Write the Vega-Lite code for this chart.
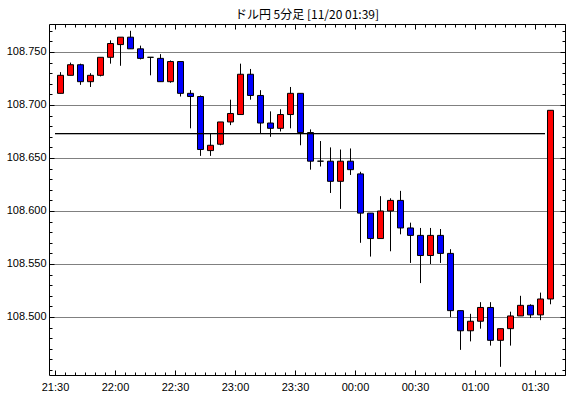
{
  "$schema": "https://vega.github.io/schema/vega-lite/v6.json",
  "width": 516,
  "height": 351,
  "autosize": "none",
  "padding": {"left": 49, "top": 24, "right": 5, "bottom": 23},
  "background": "white",
  "title": {"text": "ドル円 5分足 [11/20 01:39]", "font": "Noto Sans CJK JP", "fontSize": 12, "fontWeight": "normal", "color": "black", "anchor": "middle", "frame": "group", "baseline": "bottom", "offset": 4, "dy": 14},
  "config": {
    "view": {"stroke": "black", "strokeWidth": 1},
    "axis": {"domain": false, "labelFont": "Liberation Sans", "labelFontSize": 11, "labelColor": "black", "tickColor": "black", "tickWidth": 1, "tickOpacity": 1, "gridColor": "black", "title": null}
  },
  "datasets": {
    "candles": [
      {"t": "2019-11-19T21:30:00", "open": 108.711, "high": 108.731, "low": 108.711, "close": 108.728},
      {"t": "2019-11-19T21:35:00", "open": 108.728, "high": 108.740, "low": 108.728, "close": 108.738},
      {"t": "2019-11-19T21:40:00", "open": 108.738, "high": 108.739, "low": 108.719, "close": 108.722},
      {"t": "2019-11-19T21:45:00", "open": 108.722, "high": 108.730, "low": 108.717, "close": 108.728},
      {"t": "2019-11-19T21:50:00", "open": 108.728, "high": 108.745, "low": 108.727, "close": 108.745},
      {"t": "2019-11-19T21:55:00", "open": 108.745, "high": 108.761, "low": 108.739, "close": 108.758},
      {"t": "2019-11-19T22:00:00", "open": 108.757, "high": 108.764, "low": 108.737, "close": 108.764},
      {"t": "2019-11-19T22:05:00", "open": 108.764, "high": 108.770, "low": 108.753, "close": 108.753},
      {"t": "2019-11-19T22:10:00", "open": 108.753, "high": 108.756, "low": 108.743, "close": 108.744},
      {"t": "2019-11-19T22:15:00", "open": 108.745, "high": 108.745, "low": 108.728, "close": 108.745},
      {"t": "2019-11-19T22:20:00", "open": 108.744, "high": 108.748, "low": 108.722, "close": 108.722},
      {"t": "2019-11-19T22:25:00", "open": 108.722, "high": 108.742, "low": 108.721, "close": 108.741},
      {"t": "2019-11-19T22:30:00", "open": 108.741, "high": 108.741, "low": 108.708, "close": 108.711},
      {"t": "2019-11-19T22:35:00", "open": 108.711, "high": 108.714, "low": 108.678, "close": 108.708},
      {"t": "2019-11-19T22:40:00", "open": 108.708, "high": 108.709, "low": 108.652, "close": 108.658},
      {"t": "2019-11-19T22:45:00", "open": 108.657, "high": 108.673, "low": 108.652, "close": 108.662},
      {"t": "2019-11-19T22:50:00", "open": 108.663, "high": 108.684, "low": 108.662, "close": 108.684},
      {"t": "2019-11-19T22:55:00", "open": 108.684, "high": 108.705, "low": 108.681, "close": 108.692},
      {"t": "2019-11-19T23:00:00", "open": 108.691, "high": 108.739, "low": 108.691, "close": 108.729},
      {"t": "2019-11-19T23:05:00", "open": 108.729, "high": 108.734, "low": 108.705, "close": 108.709},
      {"t": "2019-11-19T23:10:00", "open": 108.709, "high": 108.714, "low": 108.673, "close": 108.683},
      {"t": "2019-11-19T23:15:00", "open": 108.683, "high": 108.694, "low": 108.670, "close": 108.678},
      {"t": "2019-11-19T23:20:00", "open": 108.678, "high": 108.696, "low": 108.675, "close": 108.691},
      {"t": "2019-11-19T23:25:00", "open": 108.691, "high": 108.717, "low": 108.678, "close": 108.711},
      {"t": "2019-11-19T23:30:00", "open": 108.711, "high": 108.711, "low": 108.662, "close": 108.674},
      {"t": "2019-11-19T23:35:00", "open": 108.674, "high": 108.677, "low": 108.639, "close": 108.647},
      {"t": "2019-11-19T23:40:00", "open": 108.647, "high": 108.666, "low": 108.642, "close": 108.647},
      {"t": "2019-11-19T23:45:00", "open": 108.647, "high": 108.660, "low": 108.617, "close": 108.628},
      {"t": "2019-11-19T23:50:00", "open": 108.628, "high": 108.658, "low": 108.602, "close": 108.647},
      {"t": "2019-11-19T23:55:00", "open": 108.647, "high": 108.659, "low": 108.634, "close": 108.639},
      {"t": "2019-11-20T00:00:00", "open": 108.635, "high": 108.637, "low": 108.570, "close": 108.598},
      {"t": "2019-11-20T00:05:00", "open": 108.598, "high": 108.598, "low": 108.557, "close": 108.574},
      {"t": "2019-11-20T00:10:00", "open": 108.574, "high": 108.614, "low": 108.574, "close": 108.600},
      {"t": "2019-11-20T00:15:00", "open": 108.600, "high": 108.612, "low": 108.562, "close": 108.610},
      {"t": "2019-11-20T00:20:00", "open": 108.610, "high": 108.619, "low": 108.578, "close": 108.584},
      {"t": "2019-11-20T00:25:00", "open": 108.584, "high": 108.589, "low": 108.551, "close": 108.577},
      {"t": "2019-11-20T00:30:00", "open": 108.577, "high": 108.584, "low": 108.532, "close": 108.558},
      {"t": "2019-11-20T00:35:00", "open": 108.558, "high": 108.584, "low": 108.550, "close": 108.577},
      {"t": "2019-11-20T00:40:00", "open": 108.577, "high": 108.583, "low": 108.551, "close": 108.560},
      {"t": "2019-11-20T00:45:00", "open": 108.560, "high": 108.564, "low": 108.500, "close": 108.506},
      {"t": "2019-11-20T00:50:00", "open": 108.506, "high": 108.506, "low": 108.469, "close": 108.487},
      {"t": "2019-11-20T00:55:00", "open": 108.487, "high": 108.503, "low": 108.477, "close": 108.496},
      {"t": "2019-11-20T01:00:00", "open": 108.496, "high": 108.514, "low": 108.489, "close": 108.509},
      {"t": "2019-11-20T01:05:00", "open": 108.509, "high": 108.514, "low": 108.473, "close": 108.478},
      {"t": "2019-11-20T01:10:00", "open": 108.478, "high": 108.489, "low": 108.453, "close": 108.489},
      {"t": "2019-11-20T01:15:00", "open": 108.489, "high": 108.505, "low": 108.473, "close": 108.501},
      {"t": "2019-11-20T01:20:00", "open": 108.501, "high": 108.520, "low": 108.501, "close": 108.511},
      {"t": "2019-11-20T01:25:00", "open": 108.511, "high": 108.512, "low": 108.499, "close": 108.502},
      {"t": "2019-11-20T01:30:00", "open": 108.502, "high": 108.523, "low": 108.497, "close": 108.517},
      {"t": "2019-11-20T01:35:00", "open": 108.517, "high": 108.695, "low": 108.512, "close": 108.695}
    ],
    "level": [
      {"start": "2019-11-19T21:30:00", "end": "2019-11-20T01:35:00", "price": 108.673}
    ]
  },
  "layer": [
    {
      "data": {"name": "candles"},
      "mark": {"type": "rule", "color": "black", "strokeWidth": 1, "xOffset": 5.5},
      "encoding": {
        "x": {"field": "t", "type": "temporal",
          "scale": {"nice": false, "padding": 0, "domain": [{"year": 2019, "month": 11, "date": 19, "hours": 21, "minutes": 27}, {"year": 2019, "month": 11, "date": 20, "hours": 1, "minutes": 45}]},
          "axis": {"orient": "bottom", "values": [
            {"year": 2019, "month": 11, "date": 19, "hours": 21, "minutes": 30},
            {"year": 2019, "month": 11, "date": 19, "hours": 22, "minutes": 0},
            {"year": 2019, "month": 11, "date": 19, "hours": 22, "minutes": 30},
            {"year": 2019, "month": 11, "date": 19, "hours": 23, "minutes": 0},
            {"year": 2019, "month": 11, "date": 19, "hours": 23, "minutes": 30},
            {"year": 2019, "month": 11, "date": 20, "hours": 0, "minutes": 0},
            {"year": 2019, "month": 11, "date": 20, "hours": 0, "minutes": 30},
            {"year": 2019, "month": 11, "date": 20, "hours": 1, "minutes": 0},
            {"year": 2019, "month": 11, "date": 20, "hours": 1, "minutes": 30}
          ], "format": "%H:%M", "ticks": false, "labelPadding": 6, "labelAngle": 0, "grid": false, "labelFlush": false}},
        "y": {"field": "low", "type": "quantitative",
          "scale": {"domain": [108.445283, 108.776415], "nice": false, "zero": false, "padding": 0},
          "axis": {"orient": "left", "values": [108.5, 108.55, 108.6, 108.65, 108.7, 108.75], "format": ".3f", "ticks": false, "labelPadding": 3, "grid": true, "gridDash": [1, 1], "gridWidth": 1, "gridOpacity": 1, "labelFlush": false}},
        "y2": {"field": "high"}
      }
    },
    {
      "data": {"name": "candles"},
      "mark": {"type": "bar", "size": 6, "stroke": "black", "strokeWidth": 1, "xOffset": 5.5},
      "encoding": {
        "x": {"field": "t", "type": "temporal",
          "scale": {"nice": false, "padding": 0, "domain": [{"year": 2019, "month": 11, "date": 19, "hours": 21, "minutes": 27}, {"year": 2019, "month": 11, "date": 20, "hours": 1, "minutes": 45}]},
          "axis": {"orient": "bottom", "values": [
            {"year": 2019, "month": 11, "date": 19, "hours": 21, "minutes": 30},
            {"year": 2019, "month": 11, "date": 19, "hours": 22, "minutes": 0},
            {"year": 2019, "month": 11, "date": 19, "hours": 22, "minutes": 30},
            {"year": 2019, "month": 11, "date": 19, "hours": 23, "minutes": 0},
            {"year": 2019, "month": 11, "date": 19, "hours": 23, "minutes": 30},
            {"year": 2019, "month": 11, "date": 20, "hours": 0, "minutes": 0},
            {"year": 2019, "month": 11, "date": 20, "hours": 0, "minutes": 30},
            {"year": 2019, "month": 11, "date": 20, "hours": 1, "minutes": 0},
            {"year": 2019, "month": 11, "date": 20, "hours": 1, "minutes": 30}
          ], "labels": false, "ticks": true, "tickSize": 5, "offset": -5, "grid": false}},
        "y": {"field": "open", "type": "quantitative",
          "scale": {"domain": [108.445283, 108.776415], "nice": false, "zero": false, "padding": 0},
          "axis": {"orient": "left", "values": [108.5, 108.55, 108.6, 108.65, 108.7, 108.75], "labels": false, "ticks": true, "tickSize": 5, "offset": -5, "grid": false}},
        "y2": {"field": "close"},
        "color": {"condition": {"test": "datum.close > datum.open", "value": "#ff0000"}, "value": "#0000ff"}
      }
    },
    {
      "data": {"name": "level"},
      "mark": {"type": "rule", "color": "black", "strokeWidth": 1},
      "encoding": {
        "x": {"field": "start", "type": "temporal",
          "scale": {"nice": false, "padding": 0, "domain": [{"year": 2019, "month": 11, "date": 19, "hours": 21, "minutes": 27}, {"year": 2019, "month": 11, "date": 20, "hours": 1, "minutes": 45}]},
          "axis": {"orient": "bottom", "tickCount": 52, "labels": false, "ticks": true, "tickSize": 3, "offset": -3, "grid": false}},
        "x2": {"field": "end"},
        "y": {"field": "price", "type": "quantitative",
          "scale": {"domain": [108.445283, 108.776415], "nice": false, "zero": false, "padding": 0},
          "axis": {"orient": "left", "values": [108.45, 108.46, 108.47, 108.48, 108.49, 108.5, 108.51, 108.52, 108.53, 108.54, 108.55, 108.56, 108.57, 108.58, 108.59, 108.6, 108.61, 108.62, 108.63, 108.64, 108.65, 108.66, 108.67, 108.68, 108.69, 108.7, 108.71, 108.72, 108.73, 108.74, 108.75, 108.76, 108.77], "labels": false, "ticks": true, "tickSize": 3, "offset": -3, "grid": false}}
      }
    },
    {
      "data": {"name": "level"},
      "mark": {"type": "rule", "color": "black", "strokeWidth": 1},
      "encoding": {
        "x": {"field": "start", "type": "temporal",
          "scale": {"nice": false, "padding": 0, "domain": [{"year": 2019, "month": 11, "date": 19, "hours": 21, "minutes": 27}, {"year": 2019, "month": 11, "date": 20, "hours": 1, "minutes": 45}]},
          "axis": {"orient": "top", "values": [
            {"year": 2019, "month": 11, "date": 19, "hours": 21, "minutes": 30},
            {"year": 2019, "month": 11, "date": 19, "hours": 22, "minutes": 0},
            {"year": 2019, "month": 11, "date": 19, "hours": 22, "minutes": 30},
            {"year": 2019, "month": 11, "date": 19, "hours": 23, "minutes": 0},
            {"year": 2019, "month": 11, "date": 19, "hours": 23, "minutes": 30},
            {"year": 2019, "month": 11, "date": 20, "hours": 0, "minutes": 0},
            {"year": 2019, "month": 11, "date": 20, "hours": 0, "minutes": 30},
            {"year": 2019, "month": 11, "date": 20, "hours": 1, "minutes": 0},
            {"year": 2019, "month": 11, "date": 20, "hours": 1, "minutes": 30}
          ], "labels": false, "ticks": true, "tickSize": 5, "offset": -5, "grid": false}},
        "x2": {"field": "end"},
        "y": {"field": "price", "type": "quantitative",
          "scale": {"domain": [108.445283, 108.776415], "nice": false, "zero": false, "padding": 0},
          "axis": {"orient": "right", "values": [108.5, 108.55, 108.6, 108.65, 108.7, 108.75], "labels": false, "ticks": true, "tickSize": 5, "offset": -5, "grid": false}}
      }
    },
    {
      "data": {"name": "level"},
      "mark": {"type": "rule", "color": "black", "strokeWidth": 1},
      "encoding": {
        "x": {"field": "start", "type": "temporal",
          "scale": {"nice": false, "padding": 0, "domain": [{"year": 2019, "month": 11, "date": 19, "hours": 21, "minutes": 27}, {"year": 2019, "month": 11, "date": 20, "hours": 1, "minutes": 45}]},
          "axis": {"orient": "top", "tickCount": 52, "labels": false, "ticks": true, "tickSize": 3, "offset": -3, "grid": false}},
        "x2": {"field": "end"},
        "y": {"field": "price", "type": "quantitative",
          "scale": {"domain": [108.445283, 108.776415], "nice": false, "zero": false, "padding": 0},
          "axis": {"orient": "right", "values": [108.45, 108.46, 108.47, 108.48, 108.49, 108.5, 108.51, 108.52, 108.53, 108.54, 108.55, 108.56, 108.57, 108.58, 108.59, 108.6, 108.61, 108.62, 108.63, 108.64, 108.65, 108.66, 108.67, 108.68, 108.69, 108.7, 108.71, 108.72, 108.73, 108.74, 108.75, 108.76, 108.77], "labels": false, "ticks": true, "tickSize": 3, "offset": -3, "grid": false}}
      }
    }
  ],
  "resolve": {"scale": {"x": "independent", "y": "independent"}, "axis": {"x": "independent", "y": "independent"}}
}
